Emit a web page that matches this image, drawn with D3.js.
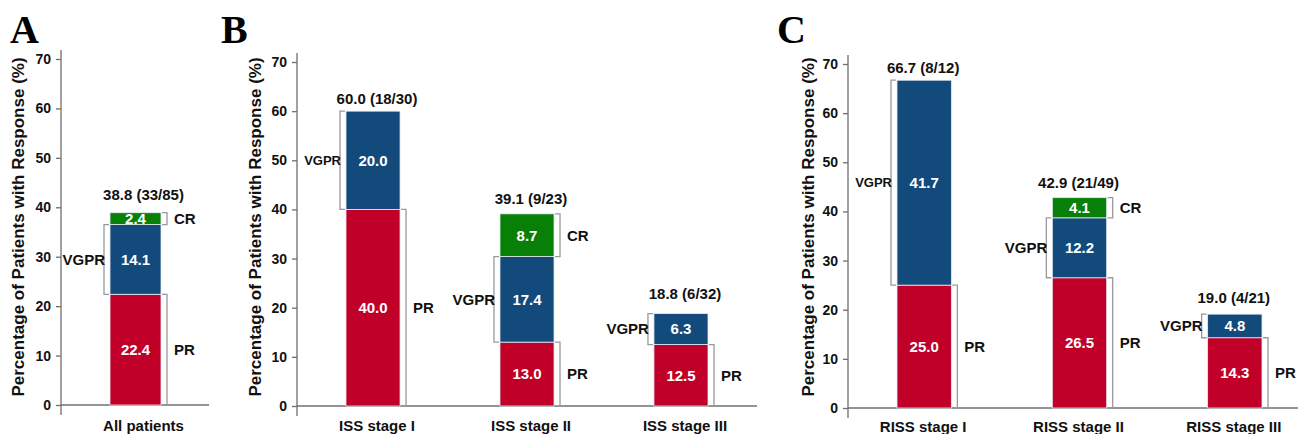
<!DOCTYPE html>
<html>
<head>
<meta charset="utf-8">
<script src="https://cdn.jsdelivr.net/npm/d3@7"></script>
<style>
  body { margin: 0; background: #fff; }
  svg { display: block; font-family: "Liberation Sans", Arial, sans-serif; font-weight: bold; }
</style>
</head>
<body>
<div id="chart"></div>
<script>
var W = 1298, H = 434;

// ---- data (percent of patients) ----
var catsA = ["All patients"];
var prA = [22.4];
var vgprA = [14.1];
var crA = [2.4];
var totalsA = ["38.8 (33/85)"];

var catsB = ["ISS stage I", "ISS stage II", "ISS stage III"];
var prB = [40.0, 13.0, 12.5];
var vgprB = [20.0, 17.4, 6.3];
var crB = [0, 8.7, 0];
var totalsB = ["60.0 (18/30)", "39.1 (9/23)", "18.8 (6/32)"];

var catsC = ["RISS stage I", "RISS stage II", "RISS stage III"];
var prC = [25.0, 26.5, 14.3];
var vgprC = [41.7, 12.2, 4.8];
var crC = [0, 4.1, 0];
var totalsC = ["66.7 (8/12)", "42.9 (21/49)", "19.0 (4/21)"];

var yTicks = [0, 10, 20, 30, 40, 50, 60, 70];
var keys = ["pr", "vgpr", "cr"];
var segLabel = {pr: "PR", vgpr: "VGPR", cr: "CR"};
var colors = {pr: "#c10029", vgpr: "#134a7c", cr: "#088008"};

// ---- layout per panel ----
var panels = [
  {letter: "A", lx: 10, cats: catsA, pr: prA, vgpr: vgprA, cr: crA, totals: totalsA,
   axisX: 61, y0: 405, y70: 59, axisTop: 50, baseEnd: 209, band: [110, 161], pad: 0,
   shift: 8, gaps: [13], vgprSize: [15], catY: 431, titleX: 18},
  {letter: "B", lx: 221, cats: catsB, pr: prB, vgpr: vgprB, cr: crB, totals: totalsB,
   axisX: 297, y0: 406, y70: 62, axisTop: 53, baseEnd: 757, band: [346, 708], pad: 0.649,
   shift: 4, gaps: [7, 10, 15], vgprSize: [13, 15, 15], catY: 431, titleX: 255},
  {letter: "C", lx: 777, cats: catsC, pr: prC, vgpr: vgprC, cr: crC, totals: totalsC,
   axisX: 848, y0: 408, y70: 64, axisTop: 55, baseEnd: 1298, band: [897, 1262], pad: 0.65,
   shift: -1, gaps: [7, 10, 11], vgprSize: [13, 15, 15], catY: 432, titleX: 808}
];

var svg = d3.select("#chart").append("svg")
  .attr("width", W)
  .attr("height", H);

panels.forEach(function(p) {
  var g = svg.append("g");

  var y = d3.scaleLinear().domain([0, 70]).range([p.y0, p.y70]);
  var x = d3.scaleBand().domain(p.cats).range(p.band).paddingInner(p.pad).paddingOuter(0);
  var bw = x.bandwidth();

  var rows = p.cats.map(function(c, i) {
    return {cat: c, i: i, pr: p.pr[i], vgpr: p.vgpr[i], cr: p.cr[i]};
  });
  var series = d3.stack().keys(keys)(rows);

  // panel letter
  g.append("text")
    .attr("x", p.lx)
    .attr("y", 43)
    .attr("font-family", "'Liberation Serif', 'Times New Roman', serif")
    .attr("font-size", 40)
    .attr("font-weight", "bold")
    .text(p.letter);

  // y axis
  var yAxis = d3.axisLeft(y).tickValues(yTicks).tickSize(5).tickPadding(5);
  var ag = g.append("g")
    .attr("transform", "translate(" + p.axisX + ",0)")
    .call(yAxis);
  ag.select(".domain").remove();
  ag.selectAll(".tick line").attr("stroke", "#6f6f6f").attr("stroke-width", 1.3);
  ag.selectAll(".tick text")
    .attr("font-family", "'Liberation Sans', Arial, sans-serif")
    .attr("font-weight", "bold")
    .attr("font-size", 14)
    .attr("fill", "#111");

  g.append("line")
    .attr("x1", p.axisX).attr("x2", p.axisX)
    .attr("y1", p.axisTop).attr("y2", p.y0 + 10)
    .attr("stroke", "#6f6f6f").attr("stroke-width", 1.3);
  g.append("line")
    .attr("x1", p.axisX).attr("x2", p.baseEnd)
    .attr("y1", p.y0).attr("y2", p.y0)
    .attr("stroke", "#6f6f6f").attr("stroke-width", 1.3);

  // y title
  g.append("text")
    .attr("transform", "translate(" + p.titleX + "," + 227 + ") rotate(-90)")
    .attr("text-anchor", "middle")
    .attr("dominant-baseline", "central")
    .attr("font-size", 17)
    .attr("fill", "#111")
    .text("Percentage of Patients with Response (%)");

  // bars
  series.forEach(function(s) {
    var key = s.key;
    var segs = s.filter(function(d) { return d[1] - d[0] > 0; });

    g.selectAll(".bar-" + key).data(segs).enter()
      .append("rect")
      .attr("x", function(d) { return x(d.data.cat); })
      .attr("y", function(d) { return y(d[1]); })
      .attr("width", bw)
      .attr("height", function(d) { return y(d[0]) - y(d[1]); })
      .attr("fill", colors[key])
      .attr("stroke", "#e6ecf2")
      .attr("stroke-width", 0.8);

    // value inside the segment
    g.selectAll(".val-" + key).data(segs).enter()
      .append("text")
      .attr("x", function(d) { return x(d.data.cat) + bw / 2; })
      .attr("y", function(d) { return (y(d[0]) + y(d[1])) / 2; })
      .attr("dy", "0.36em")
      .attr("text-anchor", "middle")
      .attr("font-size", 15)
      .attr("fill", "#fff")
      .text(function(d) { return (d[1] - d[0]).toFixed(1); });

    // brackets
    var left = key === "vgpr";
    function bx(d) { return left ? x(d.data.cat) - 6 : x(d.data.cat) + bw + 6; }
    function edge(d) { return left ? x(d.data.cat) - 1 : x(d.data.cat) + bw + 1; }

    g.selectAll(".br-" + key).data(segs).enter()
      .append("path")
      .attr("d", function(d) {
        return "M" + edge(d) + "," + y(d[1]) + "H" + bx(d) + "V" + y(d[0]) + "H" + edge(d);
      })
      .attr("fill", "none")
      .attr("stroke", "#999")
      .attr("stroke-width", 1.3);

    g.selectAll(".lab-" + key).data(segs).enter()
      .append("text")
      .attr("x", function(d) { return left ? bx(d) + 1 : bx(d) + 7; })
      .attr("y", function(d) { return (y(d[0]) + y(d[1])) / 2; })
      .attr("dy", "0.36em")
      .attr("text-anchor", left ? "end" : "start")
      .attr("font-size", function(d) { return left ? p.vgprSize[d.data.i] : 15; })
      .attr("fill", "#111")
      .text(segLabel[key]);
  });

  // totals above bars
  var top = series[series.length - 1];
  g.selectAll(".total").data(top).enter()
    .append("text")
    .attr("x", function(d) { return x(d.data.cat) + bw / 2 + p.shift; })
    .attr("y", function(d) { return y(d[1]) - p.gaps[d.data.i]; })
    .attr("text-anchor", "middle")
    .attr("font-size", 15)
    .attr("fill", "#111")
    .text(function(d) { return p.totals[d.data.i]; });

  // category labels
  g.selectAll(".cat").data(p.cats).enter()
    .append("text")
    .attr("x", function(d) { return x(d) + bw / 2 + p.shift; })
    .attr("y", p.catY)
    .attr("text-anchor", "middle")
    .attr("font-size", 15)
    .attr("fill", "#111")
    .text(function(d) { return d; });
});
</script>
</body>
</html>
